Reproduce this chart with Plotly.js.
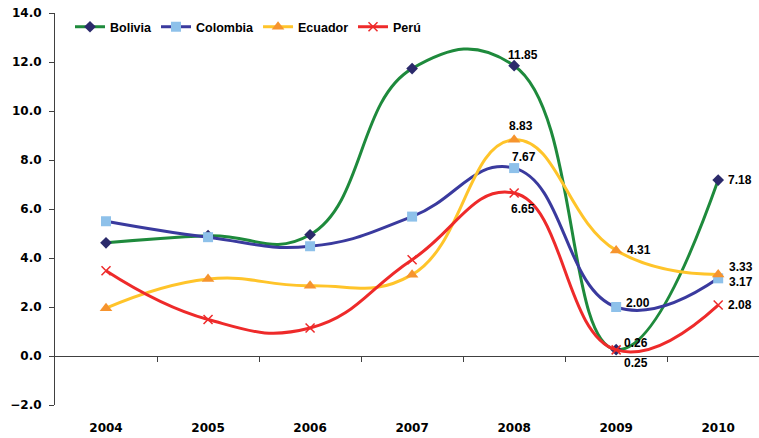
<!DOCTYPE html>
<html>
<head>
<meta charset="utf-8">
<script src="https://cdn.plot.ly/plotly-3.0.1.min.js"></script>
<style>html,body{margin:0;padding:0;background:#fff;}#chart{width:759px;height:438px;}</style>
</head>
<body>
<div id="chart"></div>
<script>
const years = ['2004', '2005', '2006', '2007', '2008', '2009', '2010'];
const seriesNames = ['Bolivia', 'Colombia', 'Ecuador', 'Perú'];
const bolivia = [4.62, 4.91, 4.95, 11.73, 11.85, 0.26, 7.18];
const colombia = [5.50, 4.85, 4.48, 5.69, 7.67, 2.00, 3.17];
const ecuador = [1.95, 3.14, 2.87, 3.32, 8.83, 4.31, 3.33];
const peru = [3.48, 1.49, 1.14, 3.93, 6.65, 0.25, 2.08];
const labelled = [false, false, false, false, true, true, true];
const yTicks = [-2, 0, 2, 4, 6, 8, 10, 12, 14];

const xIdx = years.map((y, i) => i);
const boundaries = years.slice(1).map((y, i) => i + 0.5);
const FONT = 'Liberation Sans, Arial, sans-serif';
const TICKFONT = 'DejaVu Sans, Liberation Sans, sans-serif';

// label placement styles for the labelled points (2008, 2009, 2010): [xanchor, xshift, yshift]
const styles = [
  {line: '#1E8A3C', marker: {symbol: 'diamond', size: 9, color: '#2B2A6B'}, legendX: 0.0213,
   lab: {4: ['center', 9, 11], 5: ['left', 6, 7], 6: ['left', 8, 0]}},
  {line: '#3A3A9E', marker: {symbol: 'square', size: 10, color: '#8EC1EA'}, legendX: 0.1435,
   lab: {4: ['center', 10, 11], 5: ['left', 8, 4], 6: ['left', 9, -4]}},
  {line: '#FFC42A', marker: {symbol: 'triangle-up', size: 11, color: '#F6942E'}, legendX: 0.2884,
   lab: {4: ['center', 7, 14], 5: ['left', 9, 0], 6: ['left', 9, 7]}},
  {line: '#EE2A2A', marker: {symbol: 'x-thin-open', size: 9, color: '#EE2A2A', line: {width: 1.5, color: '#EE2A2A'}}, legendX: 0.4233,
   lab: {4: ['center', 9, -16], 5: ['left', 6, -13], 6: ['left', 8, 0]}}
];
const data = [bolivia, colombia, ecuador, peru];
const legendIds = ['legend', 'legend2', 'legend3', 'legend4'];

const traces = [];
const annotations = [];
data.forEach((vals, k) => {
  traces.push({
    type: 'scatter', mode: 'lines+markers', name: seriesNames[k],
    x: xIdx, y: vals, legend: legendIds[k],
    line: {color: styles[k].line, width: 3, shape: 'spline', smoothing: 1.3},
    marker: styles[k].marker,
    cliponaxis: false, hoverinfo: 'skip'
  });
  vals.forEach((v, i) => {
    if (!labelled[i]) return;
    const p = styles[k].lab[i];
    annotations.push({
      x: xIdx[i], y: v, xref: 'x', yref: 'y', text: v.toFixed(2), showarrow: false,
      xanchor: p[0], yanchor: 'middle', xshift: p[1], yshift: p[2],
      font: {family: FONT, size: 12, color: '#000', weight: 'bold'}
    });
  });
});
traces.push({type: 'scatter', x: [], y: [], xaxis: 'x2', showlegend: false});

const xr = [-0.5, 6.4];
const layout = {
  width: 759, height: 438,
  margin: {l: 55, r: 0, t: 13, b: 33},
  paper_bgcolor: '#fff', plot_bgcolor: '#fff',
  font: {family: FONT, size: 12, color: '#000'},
  showlegend: true,
  annotations: annotations,
  xaxis: {
    range: xr, tickmode: 'array', tickvals: xIdx, ticktext: years,
    showgrid: false, zeroline: false, showline: false,
    ticks: 'outside', ticklen: 12, tickcolor: 'rgba(0,0,0,0)',
    tickfont: {family: TICKFONT, size: 12, color: '#000', weight: 'bold'}
  },
  xaxis2: {
    overlaying: 'x', anchor: 'free', position: 0.125, side: 'bottom',
    range: xr, tickmode: 'array', tickvals: boundaries, showticklabels: false,
    showgrid: false, zeroline: false, showline: false,
    ticks: 'outside', ticklen: 5, tickcolor: '#404040', tickwidth: 1
  },
  yaxis: {
    range: [-2, 14], tickmode: 'array', tickvals: yTicks, tickformat: '.1f',
    showgrid: false, zeroline: true, zerolinecolor: '#404040', zerolinewidth: 1,
    showline: true, linecolor: '#404040', linewidth: 1,
    ticks: 'outside', ticklen: 5, tickcolor: '#404040', ticklabelstandoff: 5,
    tickfont: {family: TICKFONT, size: 12, color: '#000', weight: 'bold'}
  }
};
legendIds.forEach((id, k) => {
  layout[id] = {orientation: 'h', x: styles[k].legendX, xanchor: 'left', y: 0.964, yanchor: 'middle',
    font: {family: FONT, size: 12.5, color: '#000', weight: 'bold'}, bgcolor: 'rgba(0,0,0,0)', borderwidth: 0};
});
Plotly.newPlot('chart', traces, layout, {staticPlot: true, displayModeBar: false});
</script>
</body>
</html>
